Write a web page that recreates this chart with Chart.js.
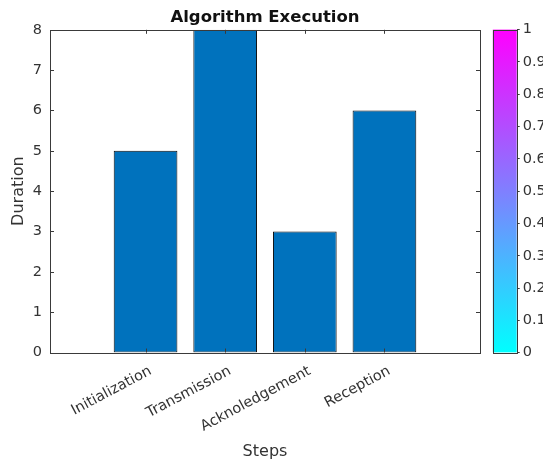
<!DOCTYPE html>
<html><head><meta charset="utf-8">
<script src="https://cdn.jsdelivr.net/npm/chart.js@4.4.1/dist/chart.umd.min.js"></script>
<style>
html,body{margin:0;padding:0;background:#fff;overflow:hidden}
#wrap{position:relative;width:543px;height:462px;background:#fff}
#main{position:absolute;left:0;top:0}
#cbar{position:absolute;left:470px;top:0}
</style></head><body>
<div id="wrap">
<canvas id="main" style="width:543px;height:462px"></canvas>
<canvas id="cbar" style="width:73px;height:462px"></canvas>
</div>
<script>
const categories = ['Initialization', 'Transmission', 'Acknoledgement', 'Reception'];
const durations = [5, 8, 3, 6];
const categoryPositions = [1, 2, 3, 4];
const yTicks = [0, 1, 2, 3, 4, 5, 6, 7, 8];
const colorbarTicks = [0, 0.1, 0.2, 0.3, 0.4, 0.5, 0.6, 0.7, 0.8, 0.9, 1];

const FONT = "'DejaVu Sans', sans-serif";
const TEXT = '#333333';
const AXIS = '#3a3a3a';

// inward ticks and box like MATLAB/Octave axes
const boxPlugin = {
  id: 'boxTicks',
  afterDatasetsDraw(chart) {
    const {ctx, chartArea: a, scales} = chart;
    ctx.save();
    ctx.strokeStyle = AXIS;
    ctx.lineWidth = 1;
    const L = 4;
    ctx.beginPath();
    scales.x.ticks.forEach(t => {
      const px = Math.round(scales.x.getPixelForValue(t.value)) + 0.5;
      ctx.moveTo(px, a.bottom); ctx.lineTo(px, a.bottom - L);
      ctx.moveTo(px, a.top); ctx.lineTo(px, a.top + L);
    });
    scales.y.ticks.forEach(t => {
      const py = Math.round(scales.y.getPixelForValue(t.value)) + 0.5;
      ctx.moveTo(a.left, py); ctx.lineTo(a.left + L, py);
      ctx.moveTo(a.right, py); ctx.lineTo(a.right - L, py);
    });
    ctx.stroke();
    ctx.strokeRect(Math.round(a.left) + 0.5, Math.round(a.top) + 0.5,
                   Math.round(a.right - a.left), Math.round(a.bottom - a.top));
    ctx.restore();
  }
};

new Chart(document.getElementById('main'), {
  type: 'bar',
  data: {
    datasets: [{
      data: categoryPositions.map((p, i) => ({x: p, y: durations[i]})),
      backgroundColor: '#0072BD',
      borderColor: '#0a0a0a',
      borderWidth: 1,
      borderSkipped: false,
      barPercentage: 0.8,
      categoryPercentage: 1.0
    }]
  },
  options: {
    responsive: false,
    animation: false,
    devicePixelRatio: 1,
    layout: {padding: {left: 0, right: 63, top: 0, bottom: 0}},
    plugins: {
      legend: {display: false},
      tooltip: {enabled: false},
      title: {
        display: true,
        fullSize: false,
        text: 'Algorithm Execution',
        color: '#111',
        font: {family: FONT, size: 16.5, weight: 'bold'},
        padding: {top: 8, bottom: 2}
      }
    },
    scales: {
      x: {
        type: 'linear',
        offset: false,
        min: -0.2,
        max: 5.2,
        afterBuildTicks(scale) {
          scale.ticks = categoryPositions.map(v => ({value: v}));
        },
        afterFit(scale) { scale.height = 109.5; },
        ticks: {
          autoSkip: false,
          minRotation: 28,
          maxRotation: 28,
          padding: 10,
          labelOffset: 5,
          color: TEXT,
          font: {family: FONT, size: 14.5},
          callback: (v) => categories[categoryPositions.indexOf(v)] || ''
        },
        grid: {display: false, drawTicks: false},
        border: {display: false},
        title: {
          display: true, text: 'Steps', color: TEXT,
          font: {family: FONT, size: 16},
          padding: {top: 0, bottom: 1}
        }
      },
      y: {
        min: 0,
        max: 8,
        afterBuildTicks(scale) {
          scale.ticks = yTicks.map(v => ({value: v}));
        },
        afterFit(scale) { scale.width = 50; },
        ticks: {
          padding: 8,
          color: TEXT,
          font: {family: FONT, size: 14.5}
        },
        grid: {display: false, drawTicks: false},
        border: {display: false},
        title: {
          display: true, text: 'Duration', color: TEXT,
          font: {family: FONT, size: 16},
          padding: {top: 9, bottom: 0}
        }
      }
    }
  },
  plugins: [boxPlugin]
});

// colorbar (cool colormap)
const cbBox = {
  id: 'cbBox',
  afterDatasetsDraw(chart) {
    const {ctx, chartArea: a} = chart;
    ctx.save();
    ctx.strokeStyle = AXIS;
    ctx.lineWidth = 1;
    ctx.strokeRect(Math.round(a.left) + 0.5, Math.round(a.top) + 0.5,
                   Math.round(a.right - a.left), Math.round(a.bottom - a.top));
    ctx.restore();
  }
};

new Chart(document.getElementById('cbar'), {
  type: 'bar',
  data: {
    labels: [''],
    datasets: [{
      data: [[colorbarTicks[0], colorbarTicks[colorbarTicks.length - 1]]],
      backgroundColor(c) {
        const a = c.chart.chartArea;
        if (!a) return '#00ffff';
        const g = c.chart.ctx.createLinearGradient(0, a.bottom, 0, a.top);
        g.addColorStop(0, 'rgb(0,255,255)');
        g.addColorStop(1, 'rgb(255,0,255)');
        return g;
      },
      borderWidth: 0,
      barPercentage: 1,
      categoryPercentage: 1
    }]
  },
  options: {
    responsive: false,
    animation: false,
    devicePixelRatio: 1,
    layout: {padding: {left: 22.7, right: 0, top: 29.5, bottom: 0}},
    plugins: {legend: {display: false}, tooltip: {enabled: false}},
    scales: {
      x: {
        display: true,
        afterFit(scale) { scale.height = 109.3; },
        ticks: {display: false},
        grid: {display: false},
        border: {display: false}
      },
      y: {
        position: 'right',
        min: 0,
        max: 1,
        afterBuildTicks(scale) {
          scale.ticks = colorbarTicks.map(v => ({value: v}));
        },
        afterFit(scale) { scale.width = 26.3; },
        ticks: {
          padding: 3,
          color: TEXT,
          font: {family: FONT, size: 14.5},
          callback: (v) => String(Math.round(v * 10) / 10)
        },
        grid: {drawOnChartArea: false, drawTicks: true, tickLength: 3, color: AXIS},
        border: {display: false}
      }
    }
  },
  plugins: [cbBox]
});
</script>
</body></html>
